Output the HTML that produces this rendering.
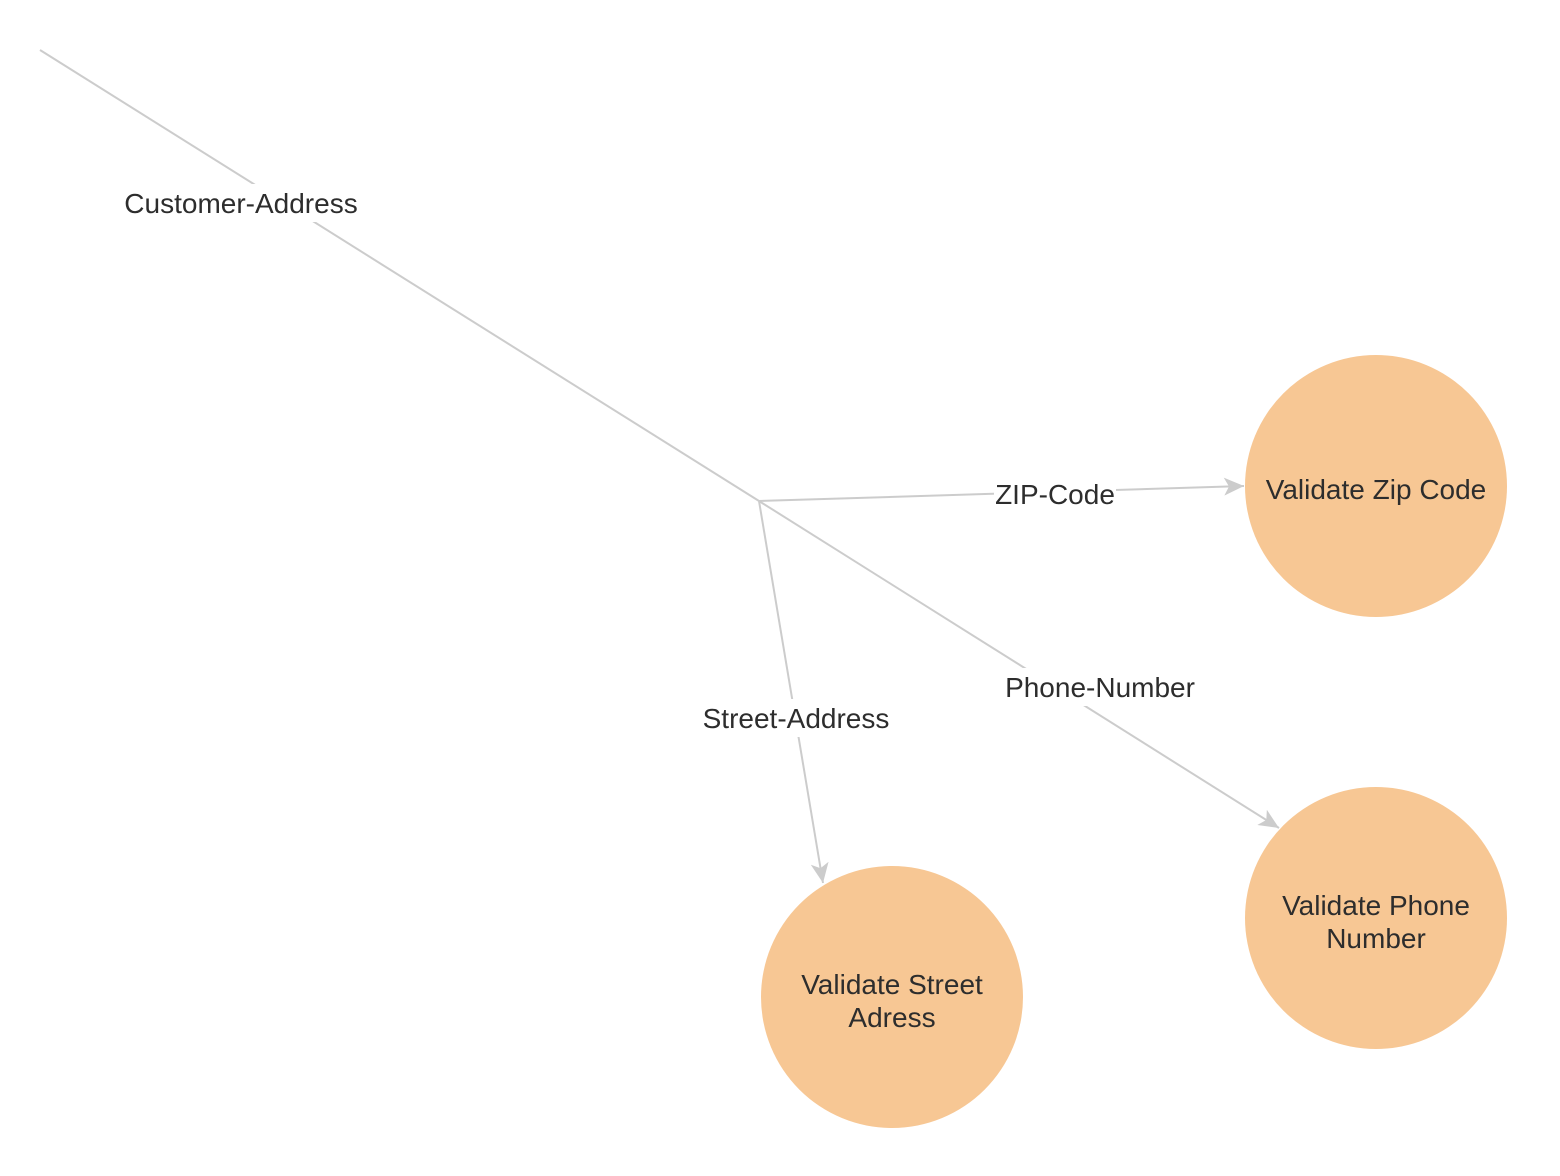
<!DOCTYPE html>
<html><head><meta charset="utf-8"><style>
html,body{margin:0;padding:0;background:#fff;width:1560px;height:1176px;overflow:hidden}
text{font-family:"Liberation Sans","DejaVu Sans",sans-serif;font-size:28px;fill:#2d2d2d}
</style></head><body>
<svg width="1560" height="1176" viewBox="0 0 1560 1176" xmlns="http://www.w3.org/2000/svg">
<defs>
<marker id="a" markerWidth="22" markerHeight="20" refX="20" refY="10" orient="auto" markerUnits="userSpaceOnUse">
<path d="M0,1 L20,10 L0,19 L5,10 Z" fill="#cccccc"/>
</marker>
</defs>
<g stroke="#cccccc" stroke-width="2" fill="none">
<line x1="40" y1="50" x2="759" y2="501"/>
<line x1="759" y1="501" x2="1279" y2="828" marker-end="url(#a)"/>
<line x1="759" y1="501" x2="1244" y2="486" marker-end="url(#a)"/>
<line x1="759" y1="501" x2="823" y2="883" marker-end="url(#a)"/>
</g>
<circle cx="1376" cy="486" r="131" fill="#f7c794"/>
<circle cx="1376" cy="918" r="131" fill="#f7c794"/>
<circle cx="892" cy="997" r="131" fill="#f7c794"/>
<rect x="122" y="184" width="238" height="38" fill="#fff"/>
<rect x="994" y="476" width="122" height="36" fill="#fff"/>
<rect x="1002" y="668" width="196" height="38" fill="#fff"/>
<rect x="700" y="699" width="192" height="38" fill="#fff"/>
<g text-anchor="middle">
<text x="241" y="213">Customer-Address</text>
<text x="1055" y="504">ZIP-Code</text>
<text x="1100" y="697">Phone-Number</text>
<text x="796" y="728">Street-Address</text>
<text x="1376" y="499">Validate Zip Code</text>
<text x="1376" y="915">Validate Phone</text>
<text x="1376" y="948">Number</text>
<text x="892" y="994">Validate Street</text>
<text x="892" y="1027">Adress</text>
</g>
</svg>
</body></html>
